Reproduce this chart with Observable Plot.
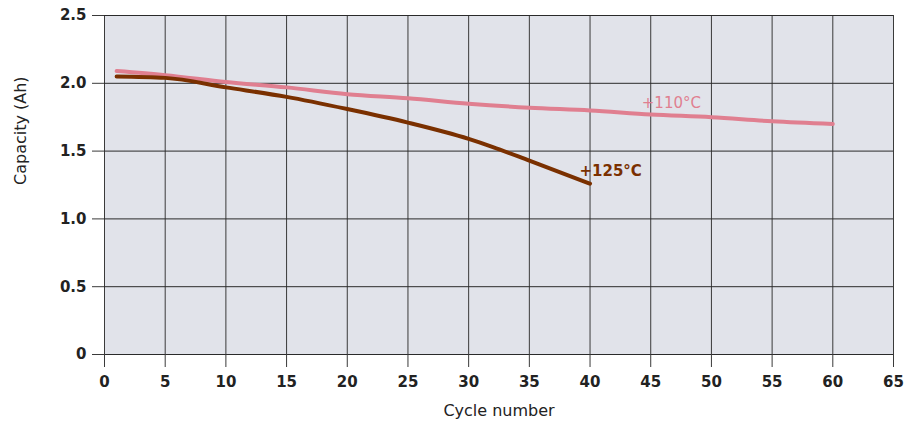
<!DOCTYPE html>
<html>
<head>
<meta charset="utf-8">
<script src="https://cdn.jsdelivr.net/npm/d3@7"></script>
<script src="https://cdn.jsdelivr.net/npm/@observablehq/plot@0.6"></script>
<style>
  html, body { margin: 0; padding: 0; background: #fff; }
  svg { display: block; }
</style>
</head>
<body>
<div id="chart"></div>
<script>
const cycles110 = [1, 5, 10, 15, 20, 25, 30, 35, 40, 45, 50, 55, 60];
const capacity110 = [2.09, 2.06, 2.01, 1.97, 1.92, 1.89, 1.85, 1.82, 1.80, 1.77, 1.75, 1.72, 1.70];
const cycles125 = [1, 5, 10, 15, 20, 25, 30, 32, 35, 40];
const capacity125 = [2.05, 2.04, 1.97, 1.90, 1.81, 1.71, 1.59, 1.53, 1.43, 1.26];
const xTicks = [0, 5, 10, 15, 20, 25, 30, 35, 40, 45, 50, 55, 60, 65];
const yTicks = [0, 0.5, 1.0, 1.5, 2.0, 2.5];
const label110 = [{x: 46.7, y: 1.85, text: "+110°C"}];
const label125 = [{x: 41.7, y: 1.355, text: "+125°C"}];

const d110 = cycles110.map((c, i) => ({x: c, y: capacity110[i]}));
const d125 = cycles125.map((c, i) => ({x: c, y: capacity125[i]}));

const chart = Plot.plot({
  width: 920,
  height: 423,
  marginLeft: 104,
  marginRight: 27,
  marginTop: 15,
  marginBottom: 69,
  style: {fontFamily: "DejaVu Sans", fontSize: "15px", color: "#222", background: "#fff"},
  x: {domain: [0, 65]},
  y: {domain: [0, 2.5]},
  marks: [
    Plot.frame({fill: "#e1e3ea", stroke: "none"}),
    Plot.gridX(xTicks, {stroke: "#3a3a3a", strokeOpacity: 1, strokeWidth: 1}),
    Plot.gridY(yTicks, {stroke: "#2a2a2a", strokeOpacity: 1, strokeWidth: 1}),
    Plot.axisX(xTicks, {tickSize: 13, tickPadding: 9, stroke: "#3a3a3a", fontWeight: "bold", fontSize: 15, tickFormat: d => String(d), label: null}),
    Plot.axisY(yTicks, {tickSize: 12, tickPadding: 6, stroke: "#3a3a3a", fontWeight: "bold", fontSize: 15, tickFormat: d => d === 0 ? "0" : d.toFixed(1), label: null}),
    Plot.text(["Cycle number"], {frameAnchor: "bottom", dy: 61, fontSize: 16, fill: "#222"}),
    Plot.text(["Capacity (Ah)"], {frameAnchor: "left", dx: -84, rotate: -90, fontSize: 16, fill: "#222"}),
    Plot.line(d110, {x: "x", y: "y", stroke: "#e07f90", strokeWidth: 4, curve: "monotone-x"}),
    Plot.line(d125, {x: "x", y: "y", stroke: "#7a3000", strokeWidth: 4, curve: "monotone-x"}),
    Plot.text(label110, {x: "x", y: "y", text: "text", fill: "#e07f90", fontWeight: 500, fontSize: 15}),
    Plot.text(label125, {x: "x", y: "y", text: "text", fill: "#7a3000", fontWeight: "bold", fontSize: 15})
  ]
});
document.getElementById("chart").appendChild(chart);
</script>
</body>
</html>
